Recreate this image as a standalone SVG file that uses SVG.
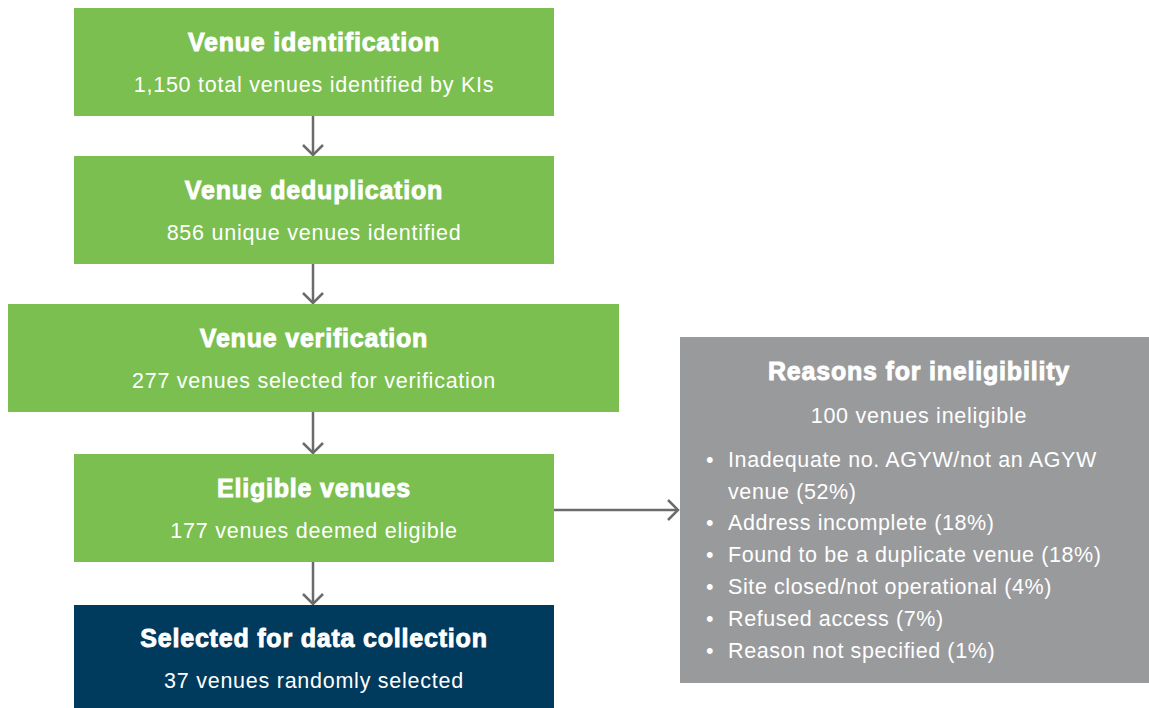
<svg xmlns="http://www.w3.org/2000/svg" width="1149" height="708" viewBox="0 0 1149 708">
<defs>
<style>
.green{fill:#7abf4f}
.navy{fill:#003a5c}
.grey{fill:#999a9c}
.t{font-family:"Liberation Sans",Arial,sans-serif;font-weight:bold;font-size:25px;letter-spacing:0.8px;fill:#fff;stroke:#fff;stroke-width:0.9px;text-anchor:middle}
.s{font-family:"Liberation Sans",Arial,sans-serif;font-size:21.5px;letter-spacing:0.75px;fill:#fff;text-anchor:middle}
.b{font-family:"Liberation Sans",Arial,sans-serif;font-size:21.5px;letter-spacing:0.6px;fill:#fff}
.c{stroke:#6b6b6b;stroke-width:2.5;fill:none}
</style>
<marker id="ah" markerWidth="14" markerHeight="24" refX="11" refY="11" orient="auto" markerUnits="userSpaceOnUse">
<path d="M1,1 L11,11 L1,21" fill="none" stroke="#6b6b6b" stroke-width="2.5"/>
</marker>
</defs>
<g id="connectors">
<line class="c" x1="313" y1="116" x2="313" y2="155" marker-end="url(#ah)"/>
<line class="c" x1="313" y1="264" x2="313" y2="303" marker-end="url(#ah)"/>
<line class="c" x1="313" y1="412" x2="313" y2="453" marker-end="url(#ah)"/>
<line class="c" x1="313" y1="562" x2="313" y2="604" marker-end="url(#ah)"/>
<line class="c" x1="554" y1="510" x2="678" y2="510" marker-end="url(#ah)"/>
</g>
<g id="n1">
<rect class="green" x="74" y="8" width="480" height="108"/>
<text class="t" x="314" y="51">Venue identification</text>
<text class="s" x="314" y="92">1,150 total venues identified by KIs</text>
</g>
<g id="n2">
<rect class="green" x="74" y="156" width="480" height="108"/>
<text class="t" x="314" y="199">Venue deduplication</text>
<text class="s" x="314" y="240">856 unique venues identified</text>
</g>
<g id="n3">
<rect class="green" x="8" y="304" width="611" height="108"/>
<text class="t" x="314" y="347">Venue verification</text>
<text class="s" x="314" y="388">277 venues selected for verification</text>
</g>
<g id="n4">
<rect class="green" x="74" y="454" width="480" height="108"/>
<text class="t" x="314" y="497">Eligible venues</text>
<text class="s" x="314" y="538">177 venues deemed eligible</text>
</g>
<g id="n5">
<rect class="navy" x="74" y="605" width="480" height="103"/>
<text class="t" x="314" y="647">Selected for data collection</text>
<text class="s" x="314" y="688">37 venues randomly selected</text>
</g>
<g id="n6">
<rect class="grey" x="680" y="337" width="469" height="346"/>
<text class="t" x="919" y="380">Reasons for ineligibility</text>
<text class="s" x="919" y="423">100 venues ineligible</text>
<text class="b" x="706" y="467">•</text><text class="b" x="728" y="467">Inadequate no. AGYW/not an AGYW</text>
<text class="b" x="728" y="499">venue (52%)</text>
<text class="b" x="706" y="530">•</text><text class="b" x="728" y="530">Address incomplete (18%)</text>
<text class="b" x="706" y="562">•</text><text class="b" x="728" y="562">Found to be a duplicate venue (18%)</text>
<text class="b" x="706" y="594">•</text><text class="b" x="728" y="594">Site closed/not operational (4%)</text>
<text class="b" x="706" y="626">•</text><text class="b" x="728" y="626">Refused access (7%)</text>
<text class="b" x="706" y="658">•</text><text class="b" x="728" y="658">Reason not specified (1%)</text>
</g>
</svg>
